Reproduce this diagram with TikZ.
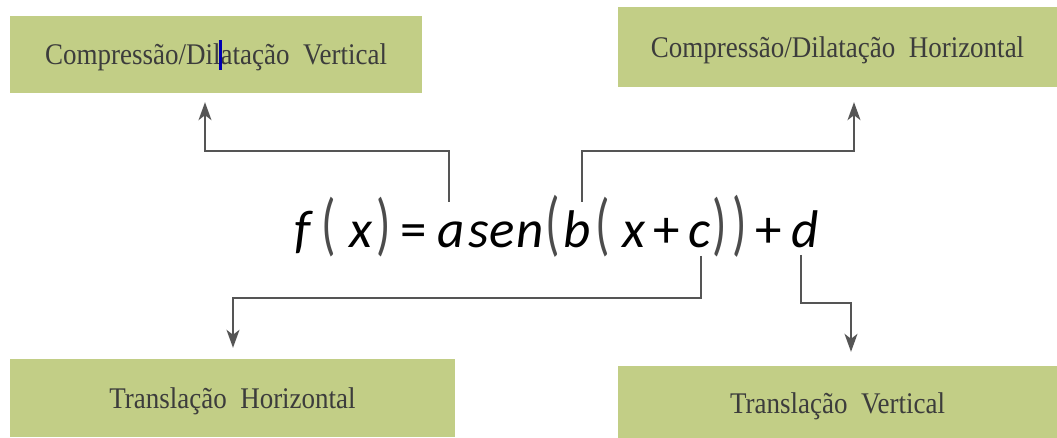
\documentclass[tikz,border=0pt]{standalone}
\usepackage{fontspec}
\usetikzlibrary{arrows.meta}
\newfontfamily\boxfont[FakeStretch=0.9]{Liberation Serif}
\newfontfamily\formfont{Carlito}
\definecolor{boxgreen}{HTML}{C2CE86}
\definecolor{boxtext}{HTML}{3C3C3C}
\definecolor{conncol}{HTML}{555555}
\tikzset{
  greenbox/.style={fill=boxgreen, draw=none, inner sep=0pt, text depth=0pt, font=\boxfont\fontsize{30}{36}\selectfont, text=boxtext},
  fchar/.style={inner sep=0pt, anchor=base, font=\formfont\fontsize{53}{60}\selectfont},
  fpar/.style={inner sep=0pt, anchor=base, font=\formfont\fontsize{53}{60}\selectfont, text=black!70},
  conn/.style={draw=conncol, line width=1.5pt, -{Stealth[length=18pt,width=13pt,inset=5pt]}},
}
\begin{document}
\begin{tikzpicture}[x=1pt,y=-1pt]
\useasboundingbox (0,0) rectangle (1057,438);
% boxes
\node[greenbox, minimum width=412pt, minimum height=77pt] (cv) at (216,54.5) {Compressão/Dilatação\ \ Vertical};
\node[greenbox, minimum width=439pt, minimum height=80pt] (ch) at (837.5,47) {Compressão/Dilatação\ \ Horizontal};
\node[greenbox, minimum width=445pt, minimum height=78pt] (th) at (232.5,398) {Translação\ \ Horizontal};
\node[greenbox, minimum width=439pt, minimum height=72pt] (tv) at (837.5,402) {\raisebox{-3pt}{Translação\ \ Vertical}};
% cursor artifact
\fill[fill=blue!70!black] (219,40) rectangle (221.5,70);
% formula
\node[fchar] (ff) at (303,248) {\itshape f};
\node[fpar] (p1) at (329,248) {\scalebox{0.9}[1.3]{(}};
\node[fchar] (fx1) at (361,248) {\itshape x};
\node[fpar] (p2) at (384,248) {\scalebox{0.9}[1.3]{)}};
\node[fchar] (feq) at (414,248) {=};
\node[fchar] (fa) at (451,248) {\itshape a};
\node[fchar] (fs) at (479,248) {\itshape s};
\node[fchar] (fe) at (502,248) {\itshape e};
\node[fchar] (fn) at (530,248) {\itshape n};
\node[fpar] (p3) at (553,248) {\scalebox{0.9}[1.35]{(}};
\node[fchar] (fb) at (577,248) {\itshape b};
\node[fpar] (p4) at (603,248) {\scalebox{0.9}[1.3]{(}};
\node[fchar] (fx2) at (634,248) {\itshape x};
\node[fchar] (fp1) at (667,248) {+};
\node[fchar] (fc) at (700,248) {\itshape c};
\node[fpar] (p5) at (720,248) {\scalebox{0.9}[1.3]{)}};
\node[fpar] (p6) at (740,248) {\scalebox{0.9}[1.35]{)}};
\node[fchar] (fp2) at (769,248) {+};
\node[fchar] (fd) at (805,248) {\itshape d};
% connector start points
\coordinate (sa) at (449,202);
\coordinate (sb) at (582,202);
\coordinate (sc) at (701,256);
\coordinate (sd) at (801,255);
% connectors
\draw[conn] (sa) -- (sa |- 0,151) -- (205,151) -- ([yshift=-9pt]cv.south -| 205,0);
\draw[conn] (sb) -- (sb |- 0,151) -- (854,151) -- ([yshift=-15pt]ch.south -| 854,0);
\draw[conn] (sc) -- (sc |- 0,298) -- (233,298) -- ([yshift=11pt]th.north -| 233,0);
\draw[conn] (sd) -- (sd |- 0,303) -- (851,303) -- ([yshift=14pt]tv.north -| 851,0);
\end{tikzpicture}
\end{document}
